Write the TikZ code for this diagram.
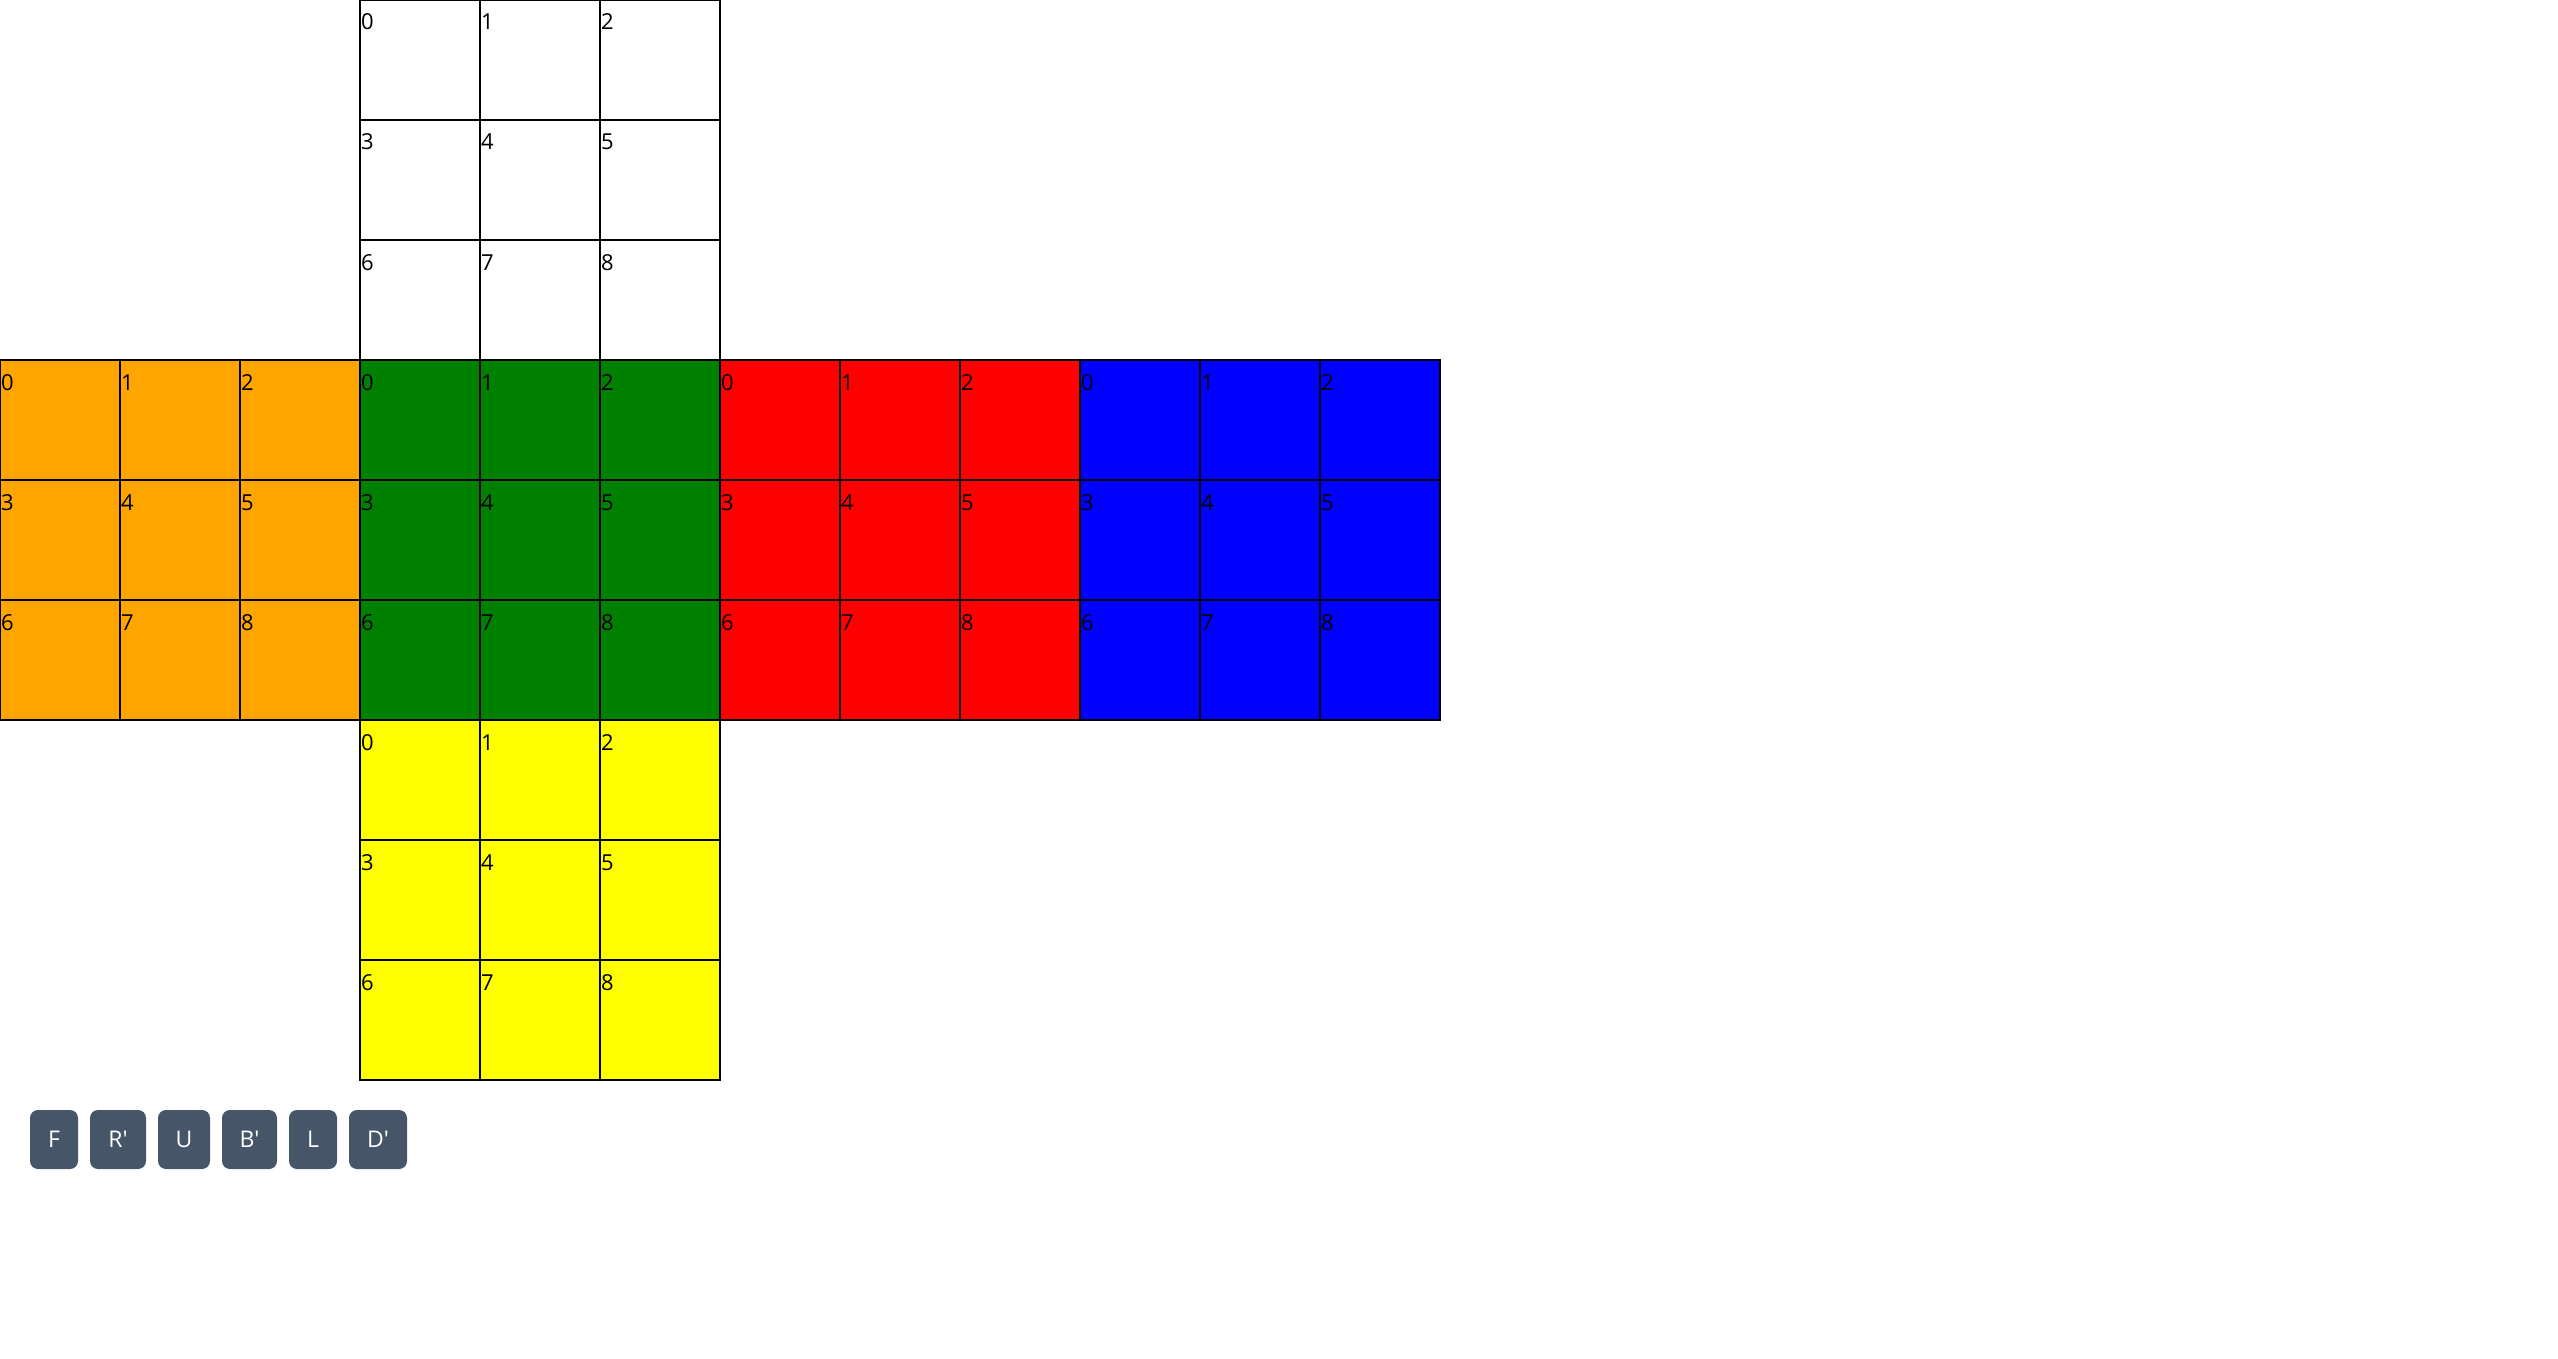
\documentclass[tikz,border=0pt]{standalone}
\usepackage{fontspec}
\setmainfont{Open Sans}
\newfontfamily\btnfont{Open Sans}[Ligatures=TeXOff]
\definecolor{cubeorange}{HTML}{FFA500}
\definecolor{cubegreen}{HTML}{008000}
\definecolor{cubered}{HTML}{FF0000}
\definecolor{cubeblue}{HTML}{0000FF}
\definecolor{cubeyellow}{HTML}{FFFF00}
\definecolor{btnslate}{HTML}{475569}
\begin{document}
\begin{tikzpicture}[x=1pt,y=-1pt,
  cell/.style={draw=black,line width=1.6pt,minimum size=120pt,inner sep=0pt,outer sep=0pt,anchor=north west},
  num/.style={anchor=base west,inner sep=0pt,font=\fontsize{22}{22}\selectfont,text=black},
  btn/.style={fill=btnslate,rounded corners=8pt,minimum height=59pt,inner sep=0pt,text=white,font=\btnfont\fontsize{23}{23}\selectfont}]
\useasboundingbox (0,0) rectangle (2558,1359);
\foreach \f/\fx/\fy/\col in {U/360/0/white, L/0/360/cubeorange, F/360/360/cubegreen, R/720/360/cubered, B/1080/360/cubeblue, D/360/720/cubeyellow}{
  \foreach \i in {0,...,8}{
    \pgfmathtruncatemacro{\cc}{mod(\i,3)}
    \pgfmathtruncatemacro{\rr}{(\i-\cc)/3}
    \node[cell,fill=\col] (\f\i) at (\fx+120*\cc,\fy+120*\rr) {};
    \node[num] (n\f\i) at (\fx+120*\cc+1,\fy+120*\rr+30) {\i};
  }
}
\node[btn,minimum width=48pt] (bF) at (54,1139.5) {F};
\node[btn,minimum width=56pt] (bR) at (118,1139.5) {R'};
\node[btn,minimum width=52pt] (bU) at (184,1139.5) {U};
\node[btn,minimum width=55pt] (bB) at (249.5,1139.5) {B'};
\node[btn,minimum width=48pt] (bL) at (313,1139.5) {L};
\node[btn,minimum width=58pt] (bD) at (378,1139.5) {D'};
\end{tikzpicture}
\end{document}
